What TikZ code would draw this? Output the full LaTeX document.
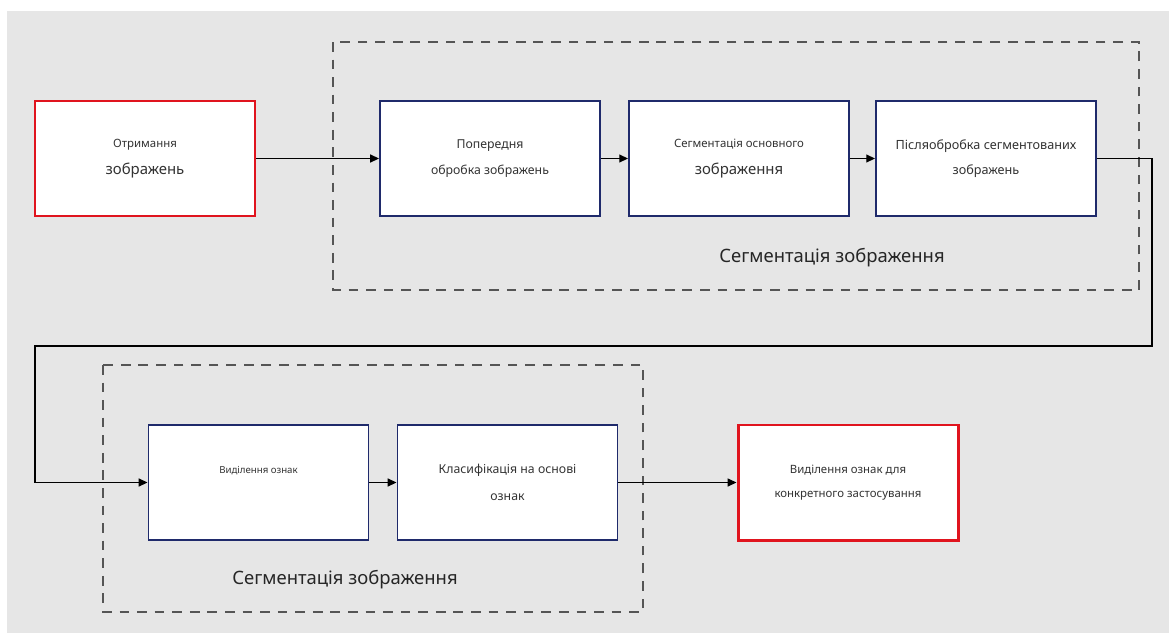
\documentclass[tikz,border=0pt]{standalone}
\usepackage{fontspec}
\setmainfont{Noto Sans}
\usetikzlibrary{arrows.meta}
\definecolor{bggray}{HTML}{E6E6E6}
\definecolor{redline}{HTML}{E0141E}
\definecolor{navyline}{HTML}{1F2A6B}
\definecolor{dashgray}{HTML}{555555}
\begin{document}
\begin{tikzpicture}[x=0.2mm,y=-0.2mm]
    \tikzset{
        stage/.style={draw=navyline,line width=1.1pt,fill=white,
            minimum width=44mm,minimum height=23mm,align=center,
            text=black!80,inner sep=0pt},
        endstage/.style={stage,draw=redline,line width=1.7pt},
        group/.style={draw=dashgray,line width=0.7pt,dash pattern=on 5.5pt off 4.5pt},
        flow/.style={draw=black,line width=0.7pt,-{Triangle[length=5pt,width=4.5pt]}},
        grouptitle/.style={font=\fontsize{10.5}{12}\selectfont,text=black!85}
    }
    % canvas
    \useasboundingbox (0,0) rectangle (1169,633);
    \fill[bggray] (7,11) rectangle (1169,633);
    % groups
    \draw[group] (333,42) rectangle (1139,290);
    \draw[group] (103,365) rectangle (643,612);
    \node[grouptitle] (title1) at (832,258) {Сегментація зображення};
    \node[grouptitle] (title2) at (345,580) {Сегментація зображення};
    % first row
    \node[endstage] (get) at (145,158.5)
        {\fontsize{6.5}{8}\selectfont Отримання\\[3.3pt]\fontsize{8.5}{10}\selectfont зображень};
    \node[stage] (pre) at (490,158.5)
        {\fontsize{7}{8}\selectfont Попередня\\[2.5pt]\fontsize{7}{8}\selectfont обробка зображень};
    \node[stage] (seg) at (739,158.5)
        {\fontsize{6.5}{8}\selectfont Сегментація основного\\[3.6pt]\fontsize{8.5}{10}\selectfont зображення};
    \node[stage] (post) at (986,158.5)
        {\fontsize{7.2}{8}\selectfont Післяобробка сегментованих\\[2pt]\fontsize{7.2}{8}\selectfont зображень};
    % second row
    \node[stage] (feat) at (258.5,482.5)
        {\fontsize{5.5}{7}\selectfont Виділення ознак\\[-1pt]\strut};
    \node[stage] (cls) at (507.5,482.5)
        {\fontsize{7}{8}\selectfont Класифікація на основі\\[3pt]\fontsize{7}{8}\selectfont ознак};
    \node[endstage] (app) at (848,482.5)
        {\fontsize{6.5}{8}\selectfont Виділення ознак для\\[1.5pt]\fontsize{6.5}{8}\selectfont конкретного застосування};
    % connectors
    \coordinate (turnA) at (1152,158.5);
    \coordinate (turnB) at (1152,346);
    \coordinate (turnC) at (35,346);
    \coordinate (turnD) at (35,482.5);
    \foreach \from/\to in {get/pre,pre/seg,seg/post,feat/cls,cls/app}
        \draw[flow] (\from) -- (\to);
    \draw[flow] (post.east) -- (turnA) -- (turnB) -- (turnC) -- (turnD) -- (feat.west);
\end{tikzpicture}
\end{document}
